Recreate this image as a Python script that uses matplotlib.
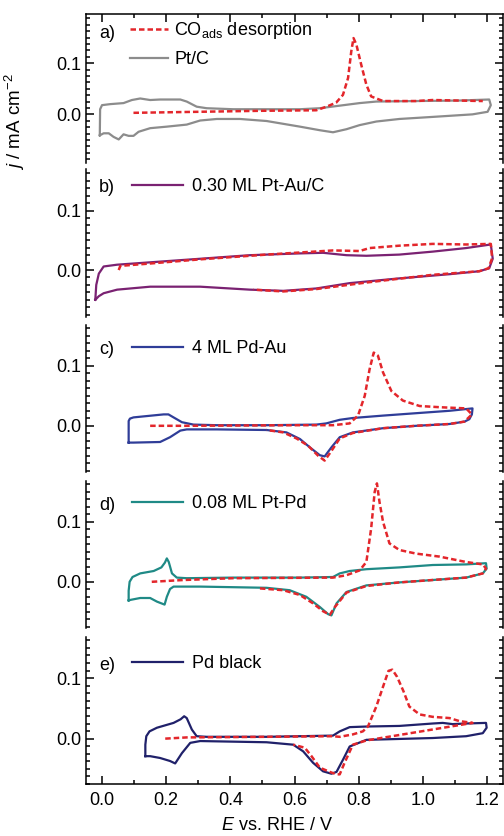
import numpy as np
import matplotlib
matplotlib.use('Agg')
import matplotlib.pyplot as plt
from matplotlib.ticker import FixedLocator, MultipleLocator

plt.rcParams['font.family'] = ['Liberation Sans', 'DejaVu Sans']
plt.rcParams['mathtext.fontset'] = 'custom'
plt.rcParams['mathtext.rm'] = 'Liberation Sans'
plt.rcParams['mathtext.it'] = 'Liberation Sans:italic'
plt.rcParams['font.size'] = 13

# ---- data (E in V vs RHE, j in mA cm^-2) ----
# a) Pt/C
ptc_E = [-0.007, -0.006, 0.0, 0.026, 0.067, 0.093, 0.119, 0.150, 0.181, 0.244, 0.264, 0.295, 0.326, 0.409, 0.513,
         0.617, 0.679, 0.741, 0.803, 0.855, 0.979, 1.114, 1.207, 1.212, 1.202,
         1.155, 1.030, 0.927, 0.855, 0.803, 0.762, 0.720, 0.679, 0.617, 0.513, 0.430, 0.358, 0.306, 0.264,
         0.202, 0.150, 0.114, 0.098, 0.083, 0.067, 0.052, 0.036, 0.021, 0.005, -0.007]
ptc_j = [-0.041, 0.010, 0.018, 0.020, 0.022, 0.028, 0.031, 0.028, 0.029, 0.029, 0.025, 0.015, 0.012, 0.010, 0.010,
         0.010, 0.012, 0.017, 0.022, 0.025, 0.026, 0.027, 0.029, 0.018, 0.005,
         0.000, -0.005, -0.009, -0.014, -0.021, -0.029, -0.035, -0.031, -0.024, -0.013, -0.009, -0.009, -0.012, -0.020,
         -0.024, -0.027, -0.034, -0.042, -0.042, -0.039, -0.049, -0.044, -0.037, -0.037, -0.041]
co_a_E = [0.098, 0.30, 0.50, 0.668, 0.700, 0.730, 0.751, 0.767, 0.777, 0.784, 0.793, 0.808, 0.824, 0.839,
          0.876, 0.979, 1.031, 1.187]
co_a_j = [0.003, 0.005, 0.007, 0.008, 0.015, 0.023, 0.038, 0.071, 0.123, 0.149, 0.136, 0.097, 0.058, 0.035,
          0.026, 0.026, 0.028, 0.026]

# b) 0.30 ML Pt-Au/C
ptau_E = [-0.021, -0.018, -0.010, 0.005, 0.047, 0.150, 0.306, 0.461, 0.617, 0.689, 0.762, 0.824, 0.927, 1.031,
          1.135, 1.212, 1.218, 1.207,
          1.176, 1.083, 0.927, 0.772, 0.668, 0.565, 0.461, 0.306, 0.150, 0.047, 0.005, -0.010, -0.021]
ptau_j = [-0.050, -0.025, -0.006, 0.006, 0.009, 0.013, 0.019, 0.025, 0.028, 0.029, 0.025, 0.024, 0.026, 0.031,
          0.037, 0.043, 0.019, 0.003,
          -0.002, -0.007, -0.014, -0.022, -0.031, -0.035, -0.033, -0.028, -0.028, -0.033, -0.039, -0.044, -0.050]
co_b_E = [0.052, 0.057, 0.150, 0.306, 0.513, 0.720, 0.803, 0.834, 0.927, 1.031, 1.135, 1.212, 1.216, 1.205,
          1.176, 1.031, 0.824, 0.668, 0.565, 0.472]
co_b_j = [0.000, 0.007, 0.011, 0.018, 0.026, 0.033, 0.032, 0.037, 0.041, 0.044, 0.043, 0.044, 0.020, 0.003,
          -0.002, -0.008, -0.021, -0.032, -0.036, -0.033]

# c) 4 ML Pd-Au
pdau_E = [0.083, 0.083, 0.087, 0.098, 0.192, 0.207, 0.223, 0.249, 0.285, 0.358, 0.513, 0.668, 0.699, 0.741, 0.782,
          0.876, 0.979, 1.083, 1.155, 1.153, 1.145, 1.130,
          1.083, 0.979, 0.876, 0.782, 0.741, 0.715, 0.694, 0.679, 0.648, 0.617, 0.575, 0.513, 0.358, 0.264,
          0.244, 0.212, 0.181, 0.098, 0.083]
pdau_j = [-0.028, 0.008, 0.012, 0.014, 0.019, 0.019, 0.014, 0.006, 0.002, 0.001, 0.001, 0.002, 0.004, 0.010, 0.013,
          0.017, 0.021, 0.025, 0.029, 0.019, 0.011, 0.007,
          0.003, 0.000, -0.004, -0.011, -0.019, -0.036, -0.051, -0.049, -0.036, -0.022, -0.011, -0.007, -0.006, -0.006,
          -0.008, -0.019, -0.027, -0.028, -0.028]
co_c_E = [0.150, 0.254, 0.617, 0.720, 0.772, 0.798, 0.819, 0.834, 0.847, 0.860, 0.876, 0.902, 0.938, 0.990,
          1.052, 1.135, 1.153, 1.130,
          1.083, 0.979, 0.876, 0.782, 0.741, 0.715, 0.694, 0.674, 0.642, 0.606, 0.565, 0.513]
co_c_j = [0.000, 0.000, 0.001, 0.001, 0.004, 0.017, 0.050, 0.094, 0.122, 0.117, 0.089, 0.058, 0.042, 0.033,
          0.031, 0.029, 0.019, 0.007,
          0.003, 0.000, -0.004, -0.012, -0.021, -0.042, -0.058, -0.050, -0.033, -0.021, -0.011, -0.007]

# d) 0.08 ML Pt-Pd
ptpd_E = [0.083, 0.083, 0.086, 0.095, 0.119, 0.161, 0.185, 0.196, 0.202, 0.208, 0.218, 0.233, 0.264, 0.409, 0.617,
          0.720, 0.741, 0.772, 0.824, 0.927, 1.031, 1.135, 1.197, 1.199, 1.187,
          1.135, 1.031, 0.927, 0.824, 0.762, 0.731, 0.715, 0.705, 0.679, 0.637, 0.585, 0.513, 0.306, 0.223,
          0.212, 0.202, 0.195, 0.171, 0.150, 0.119, 0.090, 0.083]
ptpd_j = [-0.031, -0.015, 0.000, 0.008, 0.014, 0.018, 0.024, 0.032, 0.039, 0.033, 0.014, 0.007, 0.006, 0.007, 0.007,
          0.008, 0.014, 0.018, 0.021, 0.024, 0.028, 0.029, 0.031, 0.022, 0.014,
          0.007, 0.003, -0.001, -0.006, -0.017, -0.036, -0.056, -0.054, -0.042, -0.025, -0.014, -0.010, -0.008, -0.008,
          -0.012, -0.025, -0.038, -0.033, -0.027, -0.027, -0.030, -0.031]
co_d_E = [0.155, 0.254, 0.409, 0.720, 0.762, 0.803, 0.824, 0.839, 0.850, 0.857, 0.865, 0.876, 0.896, 0.927,
          0.979, 1.052, 1.135, 1.187, 1.197, 1.187,
          1.135, 1.031, 0.927, 0.824, 0.762, 0.726, 0.710, 0.689, 0.658, 0.617, 0.565, 0.492]
co_d_j = [0.000, 0.003, 0.006, 0.007, 0.011, 0.019, 0.033, 0.089, 0.150, 0.164, 0.133, 0.100, 0.064, 0.053,
          0.047, 0.042, 0.033, 0.029, 0.022, 0.014,
          0.007, 0.003, -0.001, -0.007, -0.018, -0.042, -0.055, -0.049, -0.036, -0.022, -0.014, -0.011]

# e) Pd black
pdb_E = [0.135, 0.135, 0.138, 0.148, 0.171, 0.223, 0.245, 0.256, 0.264, 0.280, 0.295, 0.326, 0.513, 0.720, 0.741,
         0.772, 0.824, 0.927, 1.031, 1.062, 1.093, 1.135, 1.197, 1.199, 1.187,
         1.135, 1.031, 0.824, 0.772, 0.751, 0.731, 0.715, 0.689, 0.658, 0.627, 0.596, 0.513, 0.306, 0.275,
         0.249, 0.228, 0.212, 0.181, 0.150, 0.135]
pdb_j = [-0.029, -0.010, 0.004, 0.012, 0.018, 0.026, 0.032, 0.037, 0.034, 0.015, 0.004, 0.003, 0.003, 0.005, 0.012,
         0.019, 0.020, 0.021, 0.025, 0.026, 0.024, 0.025, 0.026, 0.018, 0.009,
         0.004, 0.001, -0.002, -0.013, -0.035, -0.055, -0.058, -0.054, -0.040, -0.021, -0.010, -0.006, -0.004, -0.007,
         -0.024, -0.041, -0.037, -0.032, -0.029, -0.029]
co_e_E = [0.197, 0.264, 0.513, 0.720, 0.741, 0.782, 0.813, 0.829, 0.855, 0.880, 0.893, 0.905, 0.920, 0.940, 0.958,
          0.990, 1.031, 1.083, 1.114, 1.155,
          0.824, 0.782, 0.756, 0.741, 0.731, 0.710, 0.679, 0.653, 0.632, 0.596]
co_e_j = [0.000, 0.002, 0.003, 0.004, 0.003, 0.007, 0.012, 0.020, 0.053, 0.092, 0.112, 0.114, 0.102, 0.078, 0.053,
          0.040, 0.036, 0.034, 0.029, 0.026,
          -0.003, -0.010, -0.040, -0.059, -0.059, -0.055, -0.048, -0.029, -0.015, -0.010]

panel_tags = ['a)', 'b)', 'c)', 'd)', 'e)']
sample_names = ['Pt/C', '0.30 ML Pt-Au/C', '4 ML Pd-Au', '0.08 ML Pt-Pd', 'Pd black']
sample_E = [ptc_E, ptau_E, pdau_E, ptpd_E, pdb_E]
sample_j = [ptc_j, ptau_j, pdau_j, ptpd_j, pdb_j]
co_E = [co_a_E, co_b_E, co_c_E, co_d_E, co_e_E]
co_j = [co_a_j, co_b_j, co_c_j, co_d_j, co_e_j]
colors = ['#8c8c8c', '#7a2272', '#2f3d98', '#1f8a86', '#20216a']
red = '#e3262b'

# ---- layout ----
W, H = 504, 836
fig = plt.figure(figsize=(W / 100, H / 100), dpi=100)
left, right = 86, 503
rows = [(14, 163), (169, 317), (325, 472), (481, 628), (637, 784)]
ylims = [(-0.095, 0.196), (-0.079, 0.170), (-0.077, 0.168), (-0.077, 0.168), (-0.075, 0.168)]
tag_ys = [33, 188, 350, 505, 665]

for i, (top, bot) in enumerate(rows):
    ax = fig.add_axes([left / W, 1 - bot / H, (right - left) / W, (bot - top) / H])
    ax.plot(sample_E[i], sample_j[i], color=colors[i], lw=1.6, label=sample_names[i])
    co_label = 'CO$_{\\rm ads}$ desorption' if i == 0 else '_nolegend_'
    ax.plot(co_E[i], co_j[i], '--', color=red, lw=1.8, dashes=(2.2, 1.2), label=co_label, zorder=3)
    ax.set_xlim(-0.05, 1.25)
    ax.set_ylim(*ylims[i])
    ax.yaxis.set_major_locator(FixedLocator([0.0, 0.1]))
    ax.yaxis.set_minor_locator(MultipleLocator(0.0125))
    ax.xaxis.set_major_locator(MultipleLocator(0.2))
    ax.xaxis.set_minor_locator(MultipleLocator(0.1))
    ax.yaxis.set_major_formatter(plt.FormatStrFormatter('%.1f'))
    ax.xaxis.set_major_formatter(plt.FormatStrFormatter('%.1f'))
    ax.tick_params(which='both', direction='in', right=True, width=1.1)
    ax.tick_params(which='major', length=5.5, labelsize=13)
    ax.tick_params(which='minor', length=3.2)
    for s in ax.spines.values():
        s.set_linewidth(1.1)
    ax.spines['top'].set_visible(i == 0)
    ax.spines['bottom'].set_visible(i == 4)
    ax.tick_params(axis='x', which='both', top=(i == 0), bottom=(i == 4), labelbottom=(i == 4))
    if i == 4:
        ax.tick_params(axis='x', pad=6)

    tag_y = tag_ys[i]
    fig.text(99 / W, 1 - tag_y / H, panel_tags[i], ha='left', va='center', fontsize=13)
    handles, labels = ax.get_legend_handles_labels()
    if i == 0:
        handles, labels = handles[::-1], labels[::-1]
        ax.legend(handles, labels, loc='upper left',
                  bbox_to_anchor=((130 - left) / (right - left), 1 - (20 - top) / (bot - top)),
                  frameon=False, borderpad=0, borderaxespad=0, handlelength=2.1, handletextpad=0.35,
                  labelspacing=0.55, fontsize=13)
    else:
        ax.legend(handles, labels, loc='upper left',
                  bbox_to_anchor=((132 - left) / (right - left), 1 - (tag_y - 10 - top) / (bot - top)),
                  frameon=False, borderpad=0, borderaxespad=0, handlelength=2.8, handletextpad=0.55,
                  fontsize=13)

fig.text(15 / W, 1 - 122 / H, '$j$ / mA cm$^{-2}$', rotation=90, ha='center', va='center', fontsize=13.5)
fig.text(277 / W, 1 - 826 / H, '$E$ vs. RHE / V', ha='center', va='center', fontsize=13)

fig.savefig('out.png', dpi=100)
